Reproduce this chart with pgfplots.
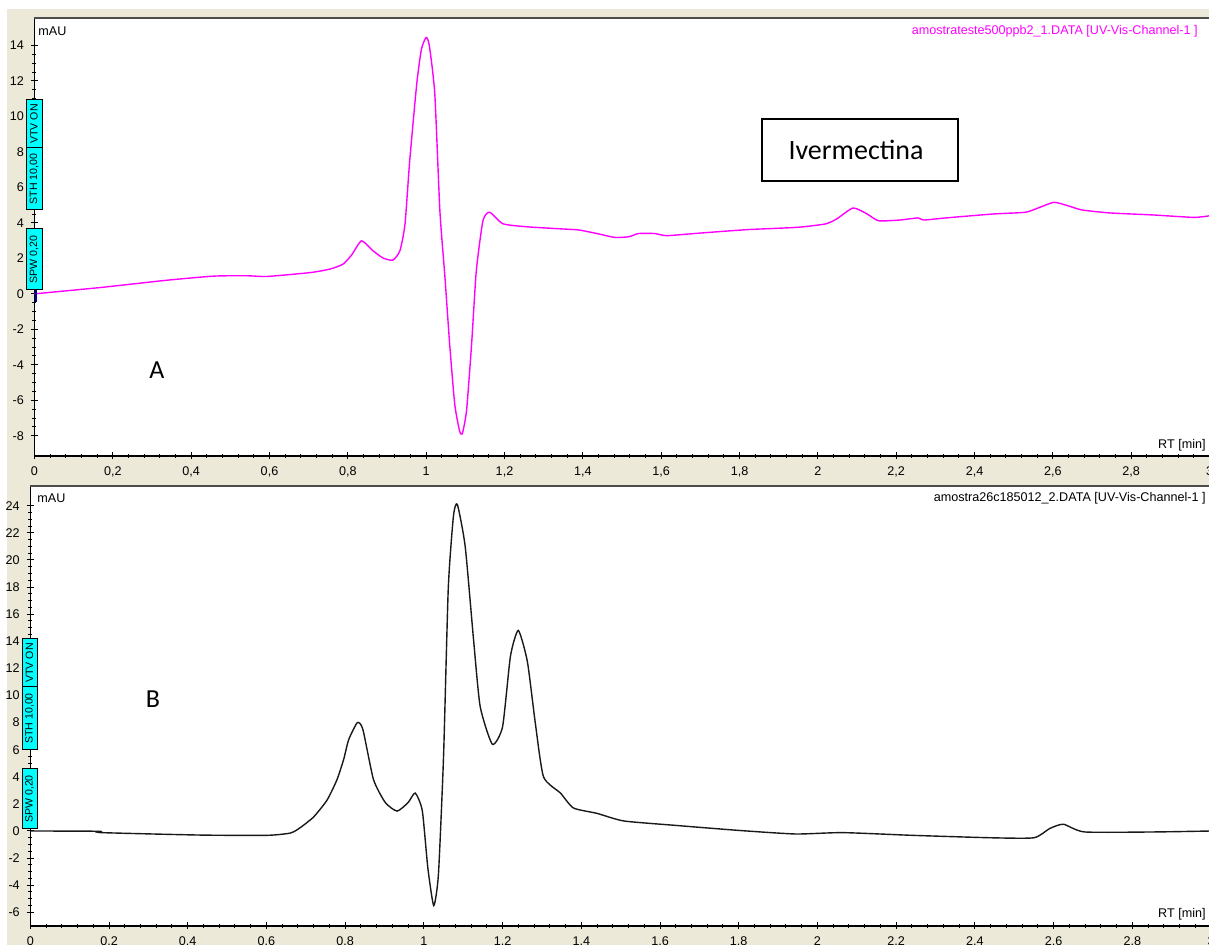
\documentclass[border=0pt]{standalone}
\usepackage{fontspec}
\setmainfont{Liberation Sans}
\newfontfamily\calibri{Carlito}
\usepackage{pgfplots}
\pgfplotsset{compat=1.18}
\definecolor{beige}{RGB}{236,233,216}
\definecolor{mag}{RGB}{255,0,255}
\definecolor{cy}{RGB}{0,255,255}
\newcommand\smallf{\fontsize{6.3}{7}\selectfont}
\newcommand\boxf{\fontsize{5.3}{6}\selectfont}
\pgfplotsset{
  chrom/.style={
    scale only axis,
    xmin=0, xmax=3,
    axis lines=left,
    axis line style={-, black, line width=0.55pt},
    xtick={0,0.2,0.4,0.6,0.8,1,1.2,1.4,1.6,1.8,2,2.2,2.4,2.6,2.8,3},
    minor x tick num=4,
    minor y tick num=3,
    tick align=center,
    major tick length=3.5pt,
    minor tick length=2pt,
    tick style={black, line width=0.5pt},
    tick label style={font=\smallf},
    /pgf/number format/use comma,
    /pgf/number format/assume math mode=true,
    axis background/.style={fill=white},
    after end axis/.code={\draw[line width=1pt, black!70] (rel axis cs:0,1) -- (rel axis cs:1,1);},
  }
}
\begin{document}
\begin{tikzpicture}
\path[use as bounding box] (0,0) rectangle (604.5pt,472.5pt);
\begin{scope}[x=0.5pt,y=-0.5pt,shift={(0pt,472.5pt)}]
  \fill[beige] (7,9) rectangle (1212,948);
\end{scope}

% ---------------- Panel A ----------------
\begin{axis}[chrom,
  at={(17.25pt,244.5pt)}, anchor=south west,
  width=587.5pt, height=219pt,
  ymin=-9.14, ymax=15.55,
  ytick={-8,-6,-4,-2,0,2,4,6,8,10,12,14},
]
\addplot[mag, line width=0.7pt, smooth, tension=0.35] coordinates {
(0,0) (0.17,0.36) (0.339,0.77) (0.459,1.0) (0.543,1.02) (0.594,0.98)
(0.705,1.2) (0.755,1.4) (0.788,1.68) (0.81,2.2) (0.835,2.99) (0.864,2.43)
(0.89,2.02) (0.915,1.9) (0.933,2.43) (0.946,3.94) (0.958,7.51) (0.976,11.85)
(0.988,13.8) (1.0,14.45) (1.008,14.0) (1.022,11.28) (1.035,4.69) (1.048,0.92)
(1.06,-2.84) (1.073,-6.23) (1.085,-7.7) (1.092,-7.9) (1.103,-6.6) (1.116,-2.84)
(1.128,1.3) (1.145,4.12) (1.162,4.6) (1.196,3.95) (1.257,3.78) (1.346,3.66)
(1.39,3.6) (1.44,3.38) (1.482,3.18) (1.518,3.22) (1.542,3.4) (1.583,3.4)
(1.614,3.28) (1.685,3.4) (1.756,3.52) (1.828,3.63) (1.948,3.75) (2.019,3.94)
(2.048,4.22) (2.09,4.84) (2.126,4.5) (2.155,4.12) (2.209,4.16) (2.256,4.28)
(2.27,4.16) (2.327,4.28) (2.447,4.5) (2.53,4.6) (2.567,4.88) (2.603,5.16)
(2.638,4.97) (2.674,4.73) (2.746,4.56) (2.853,4.45) (2.96,4.31) (3.0,4.4)
};
\draw[blue!60!black, line width=1.1pt] (axis cs:0.003,0.27) -- (axis cs:0.003,-0.46);
\end{axis}

% ---------------- Panel B ----------------
\begin{axis}[chrom,
  at={(15.15pt,9.5pt)}, anchor=south west,
  width=590.35pt, height=220pt,
  ymin=-7.01, ymax=25.46,
  ytick={-6,-4,-2,0,2,4,6,8,10,12,14,16,18,20,22,24},
]
\addplot[black!90, line width=0.7pt, smooth, tension=0.35] coordinates {
(0,0) (0.175,-0.02) (0.18,-0.12) (0.432,-0.3) (0.601,-0.32) (0.661,-0.15)
(0.686,0.25) (0.72,1.04) (0.754,2.28) (0.779,3.77) (0.796,5.26) (0.809,6.74)
(0.831,8.0) (0.845,7.5) (0.872,3.8) (0.902,2.1) (0.932,1.47) (0.96,2.1)
(0.978,2.8) (0.996,1.5) (1.01,-2.7) (1.025,-5.5) (1.037,-3.2) (1.05,5.5)
(1.062,17.9) (1.075,23.2) (1.085,24.1) (1.105,21.0) (1.126,14.2) (1.143,9.2)
(1.174,6.4) (1.2,7.7) (1.22,12.9) (1.24,14.8) (1.263,12.5) (1.283,8.0)
(1.304,4.0) (1.347,2.8) (1.38,1.7) (1.44,1.3) (1.508,0.74) (1.637,0.42)
(1.797,0.05) (1.944,-0.22) (2.064,-0.12) (2.241,-0.32) (2.441,-0.5) (2.55,-0.5)
(2.59,0.18) (2.625,0.5) (2.679,-0.07) (2.858,-0.07) (3.0,0.0)
};
\end{axis}

% ---------------- annotations (pixel coordinates) ----------------
\begin{scope}[x=0.5pt,y=-0.5pt,shift={(0pt,472.5pt)}]
  \node[anchor=east, text=mag, font=\smallf, inner sep=0] at (1198,31) {amostrateste500ppb2\_1.DATA [UV-Vis-Channel-1 ]};
  \node[anchor=west, font=\smallf, inner sep=0] at (38,31) {mAU};
  \node[anchor=east, font=\smallf, inner sep=0] at (1206,445) {RT [min]};
  \node[anchor=east, font=\smallf, inner sep=0] at (1206,498) {amostra26c185012\_2.DATA [UV-Vis-Channel-1 ]};
  \node[anchor=west, font=\smallf, inner sep=0] at (37,498) {mAU};
  \node[anchor=east, font=\smallf, inner sep=0] at (1206,914) {RT [min]};

  \draw[line width=0.8pt, fill=white] (762,119) rectangle (958,181);
  \node[font=\calibri\fontsize{14}{16}\selectfont] at (856,150) {Ivermectina};
  \node[font=\calibri\fontsize{13}{15}\selectfont] at (157,370) {A};
  \node[font=\calibri\fontsize{13}{15}\selectfont] at (153,699) {B};

  % cyan marker boxes, panel A
  \draw[fill=cy, line width=0.5pt] (26,100) rectangle (42,210);
  \draw[line width=0.5pt] (26,148) -- (42,148);
  \node[rotate=90, font=\boxf, inner sep=0] at (34,124) {VTV ON};
  \node[rotate=90, font=\boxf, inner sep=0] at (34,179) {STH 10,00};
  \draw[fill=cy, line width=0.5pt] (26,229) rectangle (42,290);
  \node[rotate=90, font=\boxf, inner sep=0] at (34,259.5) {SPW 0,20};
  % panel B
  \draw[fill=cy, line width=0.5pt] (22,639) rectangle (37,750);
  \draw[line width=0.5pt] (22,687) -- (37,687);
  \node[rotate=90, font=\boxf, inner sep=0] at (29.5,663) {VTV ON};
  \node[rotate=90, font=\boxf, inner sep=0] at (29.5,718.5) {STH 10,00};
  \draw[fill=cy, line width=0.5pt] (22,769) rectangle (37,829);
  \node[rotate=90, font=\boxf, inner sep=0] at (29.5,799) {SPW 0,20};
\end{scope}
\end{tikzpicture}
\end{document}
